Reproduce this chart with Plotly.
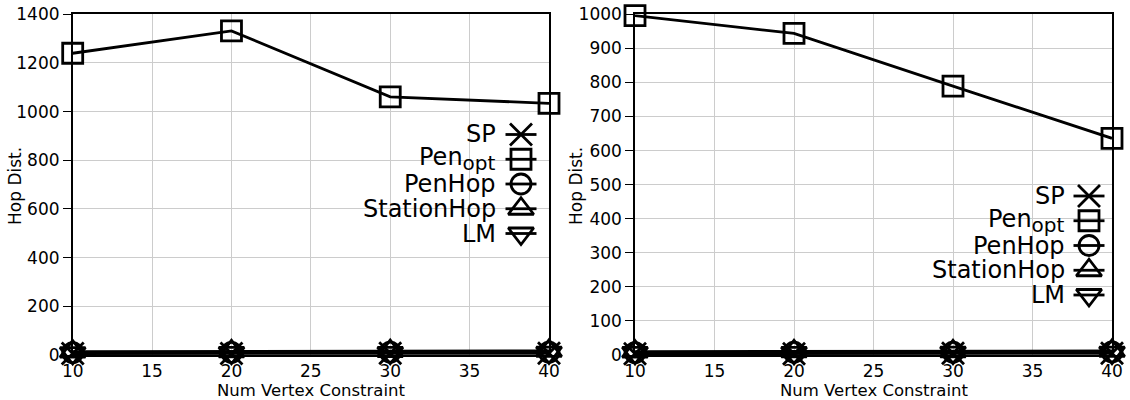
import plotly.graph_objects as go

# ---- data -------------------------------------------------------------
num_vertex = [10, 20, 30, 40]

# left panel: Hop Dist. (axis up to 1400)
left_sp = [6, 6, 7, 7]
left_pen_opt = [1240, 1332, 1061, 1034]
left_penhop = [10, 11, 12, 12]
left_stationhop = [14, 15, 16, 17]
left_lm = [8, 9, 9, 10]

# right panel: Hop Dist. (axis up to 1000)
right_sp = [4, 4, 5, 5]
right_pen_opt = [996, 944, 789, 636]
right_penhop = [7, 8, 8, 9]
right_stationhop = [10, 11, 11, 12]
right_lm = [6, 6, 7, 7]

series_names = ["SP", "Pen<sub><span style='font-size:20px'>opt</span></sub>",
                "PenHop", "StationHop", "LM"]
series_symbols = ["x-thin-open", "square-open", "circle-open",
                  "triangle-up-open", "triangle-down-open"]
series_sizes = [22, 20, 20, 22, 22]

x_ticks = [10, 15, 20, 25, 30, 35, 40]

# ---- layout constants (pixels in a 1130 x 400 page) -------------------
W, H = 1130, 400
FONT = "DejaVu Sans"
PLOT_TOP, PLOT_BOTTOM = 14.3, 355.0
LEFT_X = (72.7, 549.0)
RIGHT_X = (635.0, 1112.0)
LINE_W = 2.8

def px_x(p):
    return p / W

def px_y(p):
    return 1 - p / H

fig = go.Figure()

panels = [
    dict(xa="x", ya="y",
         data=[left_sp, left_pen_opt, left_penhop, left_stationhop, left_lm],
         key_text_right=498, key_center=521, key_top=134.5),
    dict(xa="x2", ya="y2",
         data=[right_sp, right_pen_opt, right_penhop, right_stationhop, right_lm],
         key_text_right=1067, key_center=1089, key_top=196),
]
KEY_STEP = 24.75
KEY_HALF = 15.5

for panel in panels:
    for name, sym, size, vals in zip(series_names, series_symbols,
                                     series_sizes, panel["data"]):
        fig.add_trace(go.Scatter(
            x=num_vertex, y=vals, name=name, mode="lines+markers",
            xaxis=panel["xa"], yaxis=panel["ya"],
            line=dict(color="black", width=LINE_W),
            marker=dict(symbol=sym, size=size, color="black",
                        line=dict(color="black", width=LINE_W)),
            cliponaxis=False, showlegend=False,
        ))

# ---- key (text on the left, sample line + marker on the right) --------
annotations = []
for panel in panels:
    for i, (name, sym, size) in enumerate(zip(series_names, series_symbols,
                                              series_sizes)):
        row = panel["key_top"] + i * KEY_STEP
        c = panel["key_center"]
        fig.add_trace(go.Scatter(
            x=[c - KEY_HALF, c, c + KEY_HALF], y=[row, row, row],
            xaxis="x3", yaxis="y3", mode="lines+markers",
            line=dict(color="black", width=LINE_W),
            marker=dict(symbol=sym, size=size, color="black",
                        opacity=[0, 1, 0],
                        line=dict(color="black", width=LINE_W)),
            cliponaxis=False, showlegend=False, hoverinfo="skip",
        ))
        annotations.append(dict(
            text=name, xref="paper", yref="paper",
            x=px_x(panel["key_text_right"]), y=px_y(row),
            xanchor="right", yanchor="middle", showarrow=False,
            font=dict(family=FONT, size=24, color="black"),
        ))

# axis titles
for xc in [(LEFT_X[0] + LEFT_X[1]) / 2, (RIGHT_X[0] + RIGHT_X[1]) / 2]:
    annotations.append(dict(
        text="Num Vertex Constraint", xref="paper", yref="paper",
        x=px_x(xc), y=px_y(390.5), xanchor="center", yanchor="middle",
        showarrow=False, font=dict(family=FONT, size=16.5, color="black"),
    ))
for xc in [15, 576]:
    annotations.append(dict(
        text="Hop Dist.", xref="paper", yref="paper", textangle=-90,
        x=px_x(xc), y=px_y(186), xanchor="center", yanchor="middle",
        showarrow=False, font=dict(family=FONT, size=17, color="black"),
    ))

common_x = dict(range=[10, 40], tickvals=x_ticks, showgrid=True,
                gridcolor="#cccccc", gridwidth=1, showline=True,
                linecolor="black", linewidth=1.5, mirror=True,
                zeroline=False, ticks="", ticklabelstandoff=0,
                automargin=False,
                tickfont=dict(family=FONT, size=17, color="black"))
common_y = dict(showgrid=True, gridcolor="#cccccc", gridwidth=1,
                showline=True, linecolor="black", linewidth=1.5,
                mirror=True, zeroline=False, ticks="outside", ticklen=8,
                tickcolor="black", tickwidth=1, automargin=False,
                tickfont=dict(family=FONT, size=17, color="black"))

y_domain = [px_y(PLOT_BOTTOM), px_y(PLOT_TOP)]

fig.update_layout(
    width=W, height=H, autosize=False,
    margin=dict(l=0, r=0, t=0, b=0, pad=0),
    paper_bgcolor="white", plot_bgcolor="rgba(0,0,0,0)",
    showlegend=False,
    xaxis=dict(domain=[px_x(LEFT_X[0]), px_x(LEFT_X[1])], anchor="y",
               **common_x),
    yaxis=dict(domain=y_domain, anchor="x", range=[0, 1400], dtick=200,
               **common_y),
    xaxis2=dict(domain=[px_x(RIGHT_X[0]), px_x(RIGHT_X[1])], anchor="y2",
                **common_x),
    yaxis2=dict(domain=y_domain, anchor="x2", range=[0, 1000], dtick=100,
                **common_y),
    xaxis3=dict(domain=[0, 1], anchor="y3", range=[0, W], visible=False,
                fixedrange=True, automargin=False),
    yaxis3=dict(domain=[0, 1], anchor="x3", range=[H, 0], visible=False,
                fixedrange=True, automargin=False),
    annotations=annotations,
    font=dict(family=FONT, color="black"),
)

fig.write_html("out.html")
